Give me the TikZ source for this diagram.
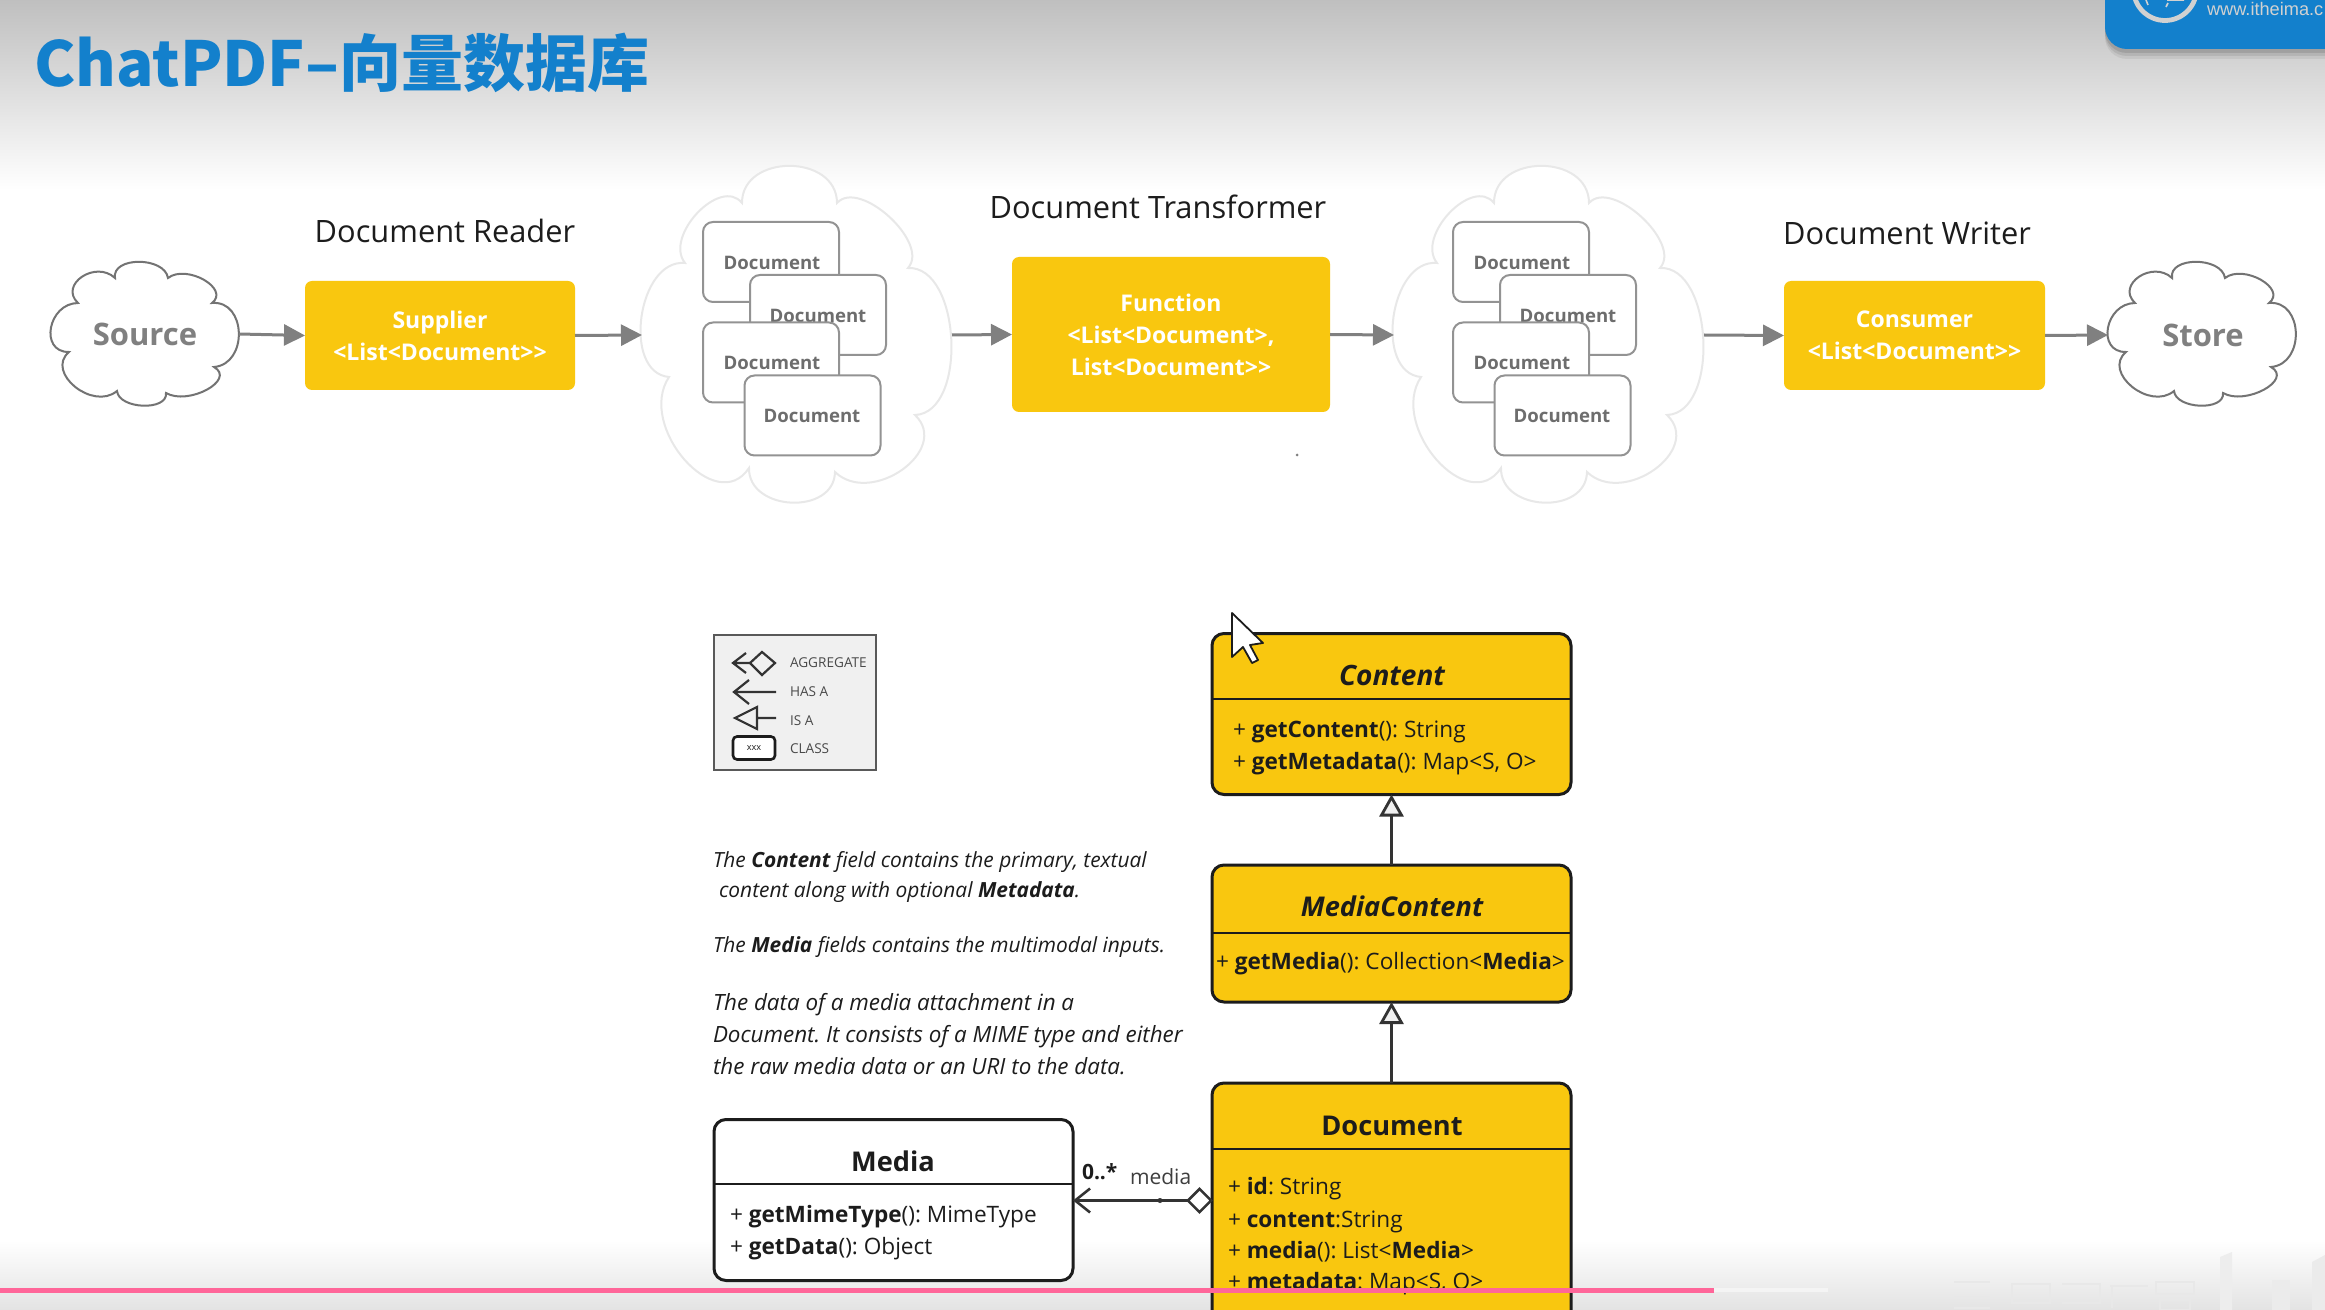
\documentclass[tikz,border=0pt]{standalone}
\usepackage{fontspec}
\setmainfont{Open Sans}
\newfontfamily\cjkfont{Noto Sans CJK SC}
\usetikzlibrary{arrows.meta,calc}
\frenchspacing
\definecolor{gold}{HTML}{F9C70F}
\definecolor{ink}{HTML}{1C1C1C}
\definecolor{midgrey}{HTML}{808080}
\definecolor{cloudgrey}{HTML}{E8E8E8}
\definecolor{brand}{HTML}{1380CC}
\definecolor{pinkbar}{HTML}{FF6699}
\newcommand\bump[3]{.. controls ($0.333*(#1)+1.333*(#2)-0.667*(#3)$) and ($0.333*(#3)+1.333*(#2)-0.667*(#1)$) .. (#3)}
\newcommand\gtgt{>\kern0pt>}
\newcommand\smallcloud{%
  (115,278) \bump{115,278}{139,262}{168,278} \bump{168,278}{204,280}{212,303}
  \bump{212,303}{239,333}{214,367} \bump{214,367}{207,390}{166,393}
  \bump{166,393}{143,406}{117,391} \bump{117,391}{75,387}{69,352}
  \bump{69,352}{51,328}{78,303} \bump{78,303}{82,277}{115,278} -- cycle}
\newcommand\bigcloud{%
  (742,203) \bump{742,203}{790,166}{837,203} \bump{837,203}{890,217}{908,268}
  \bump{908,268}{952,340}{915,415} \bump{915,415}{903,470}{835,472}
  \bump{835,472}{792,503}{749,468} \bump{749,468}{685,460}{669,377}
  \bump{669,377}{642,317}{685,263} \bump{685,263}{698,213}{742,203} -- cycle}
\tikzset{
  x=0.5pt,y=-0.5pt,
  every node/.style={outer sep=0pt,inner sep=0pt,text=ink},
  goldbox/.style={fill=gold,rounded corners=3.5pt,align=center,text=white,font=\bfseries\fontsize{11.5}{16}\selectfont},
  flow/.style={draw=midgrey,line width=1.5pt,-{Triangle[length=10.5pt,width=10.5pt]}},
  docbox/.style={draw=midgrey!85,line width=1pt,fill=white,rounded corners=5pt,minimum width=68pt,minimum height=40pt},
  doctext/.style={text=midgrey!85!black,font=\bfseries\fontsize{9.3}{11}\selectfont},
  heading/.style={text=ink,font=\fontsize{15.4}{18}\selectfont},
  cloudtext/.style={text=midgrey,font=\bfseries\fontsize{15.5}{18}\selectfont},
  classbox/.style={draw=ink,line width=1.5pt,fill=gold,rounded corners=6pt,minimum width=179.5pt},
  mediabox/.style={draw=ink,line width=1.5pt,fill=white,rounded corners=6pt,minimum width=179.5pt},
  rule/.style={draw=ink,line width=1.3pt},
  classtitle/.style={font=\bfseries\fontsize{13.6}{16}\selectfont},
  member/.style={anchor=base west,font=\fontsize{11.3}{14}\selectfont},
  para/.style={anchor=base west,text=ink,font=\itshape\fontsize{10.45}{13}\selectfont},
  parb/.style={anchor=base west,text=ink,font=\itshape\fontsize{11.2}{13}\selectfont},
  legend/.style={anchor=west,text=ink!80,font=\fontsize{6.8}{8}\selectfont},
  isa/.style={draw=ink!90,line width=1.4pt,-{Triangle[open,fill=gray!12,length=11pt,width=12pt,line width=1.4pt]}},
  icon/.style={draw=ink!90,line width=1.1pt},
  emboss/.style={draw=black!9,line width=.8pt},
}
\begin{document}
\begin{tikzpicture}
\useasboundingbox (0,0) rectangle (2325,1310);
% backgrounds
\fill[white] (0,0) rectangle (2325,1310);
\shade[top color=black!25,bottom color=white] (0,0) rectangle (2325,190);
\shade[top color=white,bottom color=black!11] (0,1240) rectangle (2325,1310);
% faint corner watermark
\begin{scope}
\fill[black!7] (2220,1257) -- (2232,1252) -- (2232,1310) -- (2220,1310) -- cycle;
\fill[black!8] (2272,1280) rectangle (2290,1310);
\fill[black!8] (2312,1262) -- (2325,1255) -- (2325,1310) -- (2312,1310) -- cycle;
\draw[emboss] (1954,1282) -- (1990,1282) (1954,1297) -- (1990,1297) (1954,1308) -- (1990,1308);
\draw[emboss] (2012,1284) rectangle (2050,1303);
\draw[emboss] (2062,1284) -- (2100,1284) -- (2100,1303) -- (2062,1303);
\draw[emboss] (2110,1286) -- (2148,1286) (2112,1286) -- (2112,1308);
\draw[emboss] (2156,1282) -- (2194,1282) -- (2194,1294) -- (2156,1294) -- cycle (2160,1300) rectangle (2190,1310);
\end{scope}
% title
\node[anchor=base west,text=brand,font=\cjkfont\bfseries\fontsize{31}{36}\selectfont] (title) at (34,87) {ChatPDF–向量数据库};
% logo
\foreach \o/\a in {10/0.06,7/0.08,4/0.1}{\fill[black,opacity=\a,rounded corners=11pt] (2105,-40) rectangle (2400,49+\o);}
\fill[brand,rounded corners=11pt] (2105,-40) rectangle (2400,49);
\draw[black!18,line width=2.4pt] (2165,-11) circle[radius=31.5];
\draw[black!18,line width=.8pt] (2146,0) -- (2148,5) (2184,0) -- (2167,0) (2168,3) -- (2166,7);
\node[anchor=base west,text=black!18,font=\fontspec{Liberation Sans}\fontsize{9.1}{10}\selectfont] (url) at (2207,16) {www.itheima.c};
% clouds
\draw[midgrey!90!black,line width=1pt,fill=white] \smallcloud;
\begin{scope}[xshift=1028.5pt]
\draw[midgrey!90!black,line width=1pt,fill=white] \smallcloud;
\end{scope}
\draw[cloudgrey,line width=1pt,fill=white] \bigcloud;
\begin{scope}[xshift=376pt]
\draw[cloudgrey,line width=1pt,fill=white] \bigcloud;
\end{scope}
\node[cloudtext,minimum width=94pt] (source) at (145,334) {Source};
\node[cloudtext,minimum width=95pt] (store) at (2203,335) {Store};
\node[minimum width=155pt] (cloudA) at (797,335) {};
\node[minimum width=155pt] (cloudB) at (1549,335) {};
% documents
\foreach \dx/\p in {0/a,750/b}{
  \node[docbox] (doc\p1) at (771+\dx,262) {};
  \node[doctext] (doct\p1) at (772+\dx,263) {Document};
  \node[docbox] (doc\p2) at (818+\dx,315) {};
  \node[doctext] (doct\p2) at (818+\dx,316) {Document};
  \node[docbox] (doc\p3) at (771+\dx,362.5) {};
  \node[doctext] (doct\p3) at (772+\dx,363) {Document};
  \node[docbox] (doc\p4) at (812.5+\dx,415.5) {};
  \node[doctext] (doct\p4) at (812+\dx,416) {Document};
}
% gold boxes
\node[goldbox,minimum width=135pt,minimum height=54.5pt] (supplier) at (440,335.5) {Supplier\\\textless List\textless Document\gtgt};
\node[goldbox,minimum width=159pt,minimum height=77.5pt] (function) at (1171,334.5) {Function\\\textless List\textless Document\textgreater,\\List\textless Document\gtgt};
\node[goldbox,minimum width=130.5pt,minimum height=54.5pt] (consumer) at (1914.5,335.5) {Consumer\\\textless List\textless Document\gtgt};
% headings
\node[heading] (hreader) at (445,231) {Document Reader};
\node[heading] (htrans) at (1158,207) {Document Transformer};
\node[heading] (hwriter) at (1907,233) {Document Writer};
% flow arrows
\draw[flow] (source.east) -- (supplier.west);
\draw[flow] (supplier.east) -- (cloudA.west);
\draw[flow] (cloudA.east) -- (function.west);
\draw[flow] (function.east) -- (cloudB.west);
\draw[flow] (cloudB.east) -- (consumer.west);
\draw[flow] (consumer.east) -- (store.west);
\fill[midgrey] (1297,455) circle[radius=1.5];
% legend
\node[draw=black!65,line width=1pt,fill=black!6,minimum width=81pt,minimum height=67.5pt] (legendbox) at (794.5,702) {};
\node[legend] (l1) at (790,663) {AGGREGATE};
\node[legend] (l2) at (790,692) {HAS A};
\node[legend] (l3) at (790,721) {IS A};
\node[legend] (l4) at (790,749) {CLASS};
\draw[icon] (750,663) -- (733,663) (746,653) -- (733,663) -- (746,673);
\draw[icon] (750,663) -- (762,652) -- (775,663) -- (762,675) -- cycle;
\draw[icon] (776,692) -- (734,692) (749,680) -- (734,692) -- (749,704);
\draw[icon] (776,718) -- (757,718) (757,707) -- (735,718) -- (757,729) -- cycle;
\node[draw=ink,line width=1.3pt,rounded corners=2pt,fill=white,minimum width=21pt,minimum height=11.5pt,font=\fontsize{4.6}{5}\selectfont] (l5) at (754,748) {xxx};
% paragraphs
\node[para] (p1) at (713,867.5) {The \textbf{Content} field contains the primary, textual};
\node[para] (p2) at (719,897.5) {content along with optional \textbf{Metadata}.};
\node[para] (p3) at (713,952.5) {The \textbf{Media} fields contains the multimodal inputs.};
\node[parb] (p4) at (713,1010.5) {The data of a media attachment in a};
\node[parb] (p5) at (713,1042.5) {Document. It consists of a MIME type and either};
\node[parb] (p6) at (713,1074.5) {the raw media data or an URI to the data.};
% Content
\node[classbox,minimum height=80.5pt] (content) at (1391.5,714) {};
\draw[rule] (content.west |- 0,699) -- (content.east |- 0,699);
\node[classtitle,font=\bfseries\itshape\fontsize{14}{16}\selectfont] (tcontent) at (1392,675.5) {Content};
\node[member] (m1) at (1233,737) {+ \textbf{getContent}(): String};
\node[member] (m2) at (1233,769) {+ \textbf{getMetadata}(): Map\textless S, O\textgreater};
% MediaContent
\node[classbox,minimum height=68.5pt] (mediacontent) at (1391.5,933.5) {};
\draw[rule] (mediacontent.west |- 0,933) -- (mediacontent.east |- 0,933);
\node[classtitle,font=\bfseries\itshape\fontsize{13.6}{16}\selectfont] (tmc) at (1392,906.5) {MediaContent};
\node[member] (m3) at (1216,969) {+ \textbf{getMedia}(): Collection\textless\textbf{Media}\textgreater};
% Document
\node[classbox,minimum height=180pt] (document) at (1391.5,1263) {};
\draw[rule] (document.west |- 0,1149) -- (document.east |- 0,1149);
\node[classtitle] (tdoc) at (1392,1125.5) {Document};
\node[member] (m4) at (1228,1194) {+ \textbf{id}: String};
\node[member] (m5) at (1228,1227) {+ \textbf{content}:String};
\node[member] (m6) at (1228,1258) {+ \textbf{media}(): List\textless\textbf{Media}\textgreater};
\node[member] (m7) at (1228,1289.5) {+ \textbf{metadata}: Map\textless S, O\textgreater};
% Media
\node[mediabox,minimum height=80.5pt] (media) at (893.5,1200) {};
\draw[rule] (media.west |- 0,1184) -- (media.east |- 0,1184);
\node[classtitle] (tmedia) at (893,1161.5) {Media};
\node[member] (m8) at (730,1222) {+ \textbf{getMimeType}(): MimeType};
\node[member] (m9) at (730,1254.5) {+ \textbf{getData}(): Object};
% connectors
\draw[isa] (mediacontent.north) -- (content.south);
\draw[isa] (document.north) -- (mediacontent.south);
\node[draw=ink!90,line width=1.3pt,fill=white,minimum width=0pt,minimum height=0pt,shape=rectangle,rotate=45,minimum size=8.2pt] (agg) at (1199.5,1200.5) {};
\draw[ink!90,line width=1.3pt,-{Straight Barb[length=7.5pt,width=12pt,line width=1.3pt]}] (agg.north west) -- (agg.north west -| media.east);
\fill[ink!90] (1160,1200.5) circle[radius=2.5];
\node[anchor=west,font=\bfseries\fontsize{10.5}{12}\selectfont] (mult) at (1082,1172) {0..*};
\node[anchor=west,text=ink!85,font=\fontsize{10.5}{12}\selectfont] (role) at (1130,1177) {media};
% cursor
\draw[ink,line width=.9pt,fill=white,line join=round] (1232,613) -- (1232,657) -- (1243,647) -- (1252,663) -- (1258,660) -- (1250,645) -- (1263,643) -- cycle;
% progress bar
\fill[white,opacity=.45] (1714,1288) rectangle (1828,1292);
\fill[pinkbar] (0,1288) rectangle (1714,1293);
\end{tikzpicture}
\end{document}
